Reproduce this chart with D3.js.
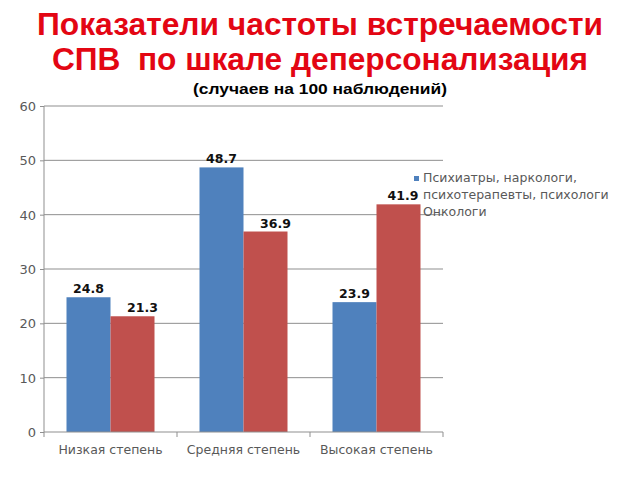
<!DOCTYPE html>
<html>
<head>
<meta charset="utf-8">
<script src="https://cdn.jsdelivr.net/npm/d3@7"></script>
<style>
  body { margin: 0; background: #fff; }
  .title { font-family: "Liberation Sans", Arial, sans-serif; white-space: pre; }
  .lab { font-family: "DejaVu Sans", sans-serif; }
</style>
</head>
<body>
<div id="chart"></div>
<script>
var categories = ["Низкая степень", "Средняя степень", "Высокая степень"];
var seriesNames = ["Психиатры, наркологи, психотерапевты, психологи", "Онкологи"];
var psychValues = [24.8, 48.7, 23.9];
var oncoValues = [21.3, 36.9, 41.9];
var yTicks = [0, 10, 20, 30, 40, 50, 60];
var colors = ["#4F81BD", "#C0504D"];

var svgWidth = 640;
var svgHeight = 480;

var margin = { top: 106, right: 197, bottom: 48, left: 44 };
var width = svgWidth - margin.left - margin.right;
var height = svgHeight - margin.top - margin.bottom;

var svg = d3.select("#chart")
  .append("svg")
  .attr("width", svgWidth)
  .attr("height", svgHeight);

// title
var titleColor = "#E30613";
svg.append("text")
  .attr("class", "title")
  .attr("x", 320).attr("y", 35)
  .attr("text-anchor", "middle")
  .attr("fill", titleColor)
  .attr("font-size", 31).attr("font-weight", "bold")
  .attr("textLength", 566).attr("lengthAdjust", "spacingAndGlyphs")
  .text("Показатели частоты встречаемости");
svg.append("text")
  .attr("class", "title")
  .attr("x", 320).attr("y", 70)
  .attr("text-anchor", "middle")
  .attr("fill", titleColor)
  .attr("font-size", 31).attr("font-weight", "bold")
  .attr("textLength", 536).attr("lengthAdjust", "spacingAndGlyphs")
  .text("СПВ  по шкале деперсонализация");
svg.append("text")
  .attr("class", "title")
  .attr("x", 320).attr("y", 94)
  .attr("text-anchor", "middle")
  .attr("fill", "#000")
  .attr("font-size", 15).attr("font-weight", "bold")
  .attr("textLength", 254).attr("lengthAdjust", "spacingAndGlyphs")
  .text("(случаев на 100 наблюдений)");

var chartGroup = svg.append("g")
  .attr("transform", `translate(${margin.left}, ${margin.top})`);

var x0 = d3.scaleBand()
  .domain(categories)
  .range([0, width]);

var x1 = d3.scaleBand()
  .domain([0, 1])
  .range([22.5, x0.bandwidth() - 22.5]);

var y = d3.scaleLinear()
  .domain([0, 60])
  .range([height, 0]);

// gridlines
chartGroup.selectAll(".grid")
  .data(yTicks.slice(1))
  .enter()
  .append("line")
  .attr("x1", 0).attr("x2", width)
  .attr("y1", d => y(d)).attr("y2", d => y(d))
  .attr("stroke", "#8f8f8f")
  .attr("stroke-width", 1);

// y axis
var leftAxis = d3.axisLeft(y).tickValues(yTicks).tickSize(4).tickPadding(4);
var yAxis = chartGroup.append("g").call(leftAxis);
yAxis.attr("font-family", null).attr("font-size", null);
yAxis.select(".domain").attr("stroke", "#8f8f8f").attr("d", `M0,${height}V0`);
yAxis.selectAll(".tick line").attr("stroke", "#8f8f8f");
yAxis.selectAll(".tick text")
  .attr("class", "lab")
  .attr("fill", "#595959")
  .attr("font-size", 13)
  .attr("dy", "0.35em");

// bars
var data = categories.map((c, i) => ({ cat: c, vals: [psychValues[i], oncoValues[i]] }));

var groups = chartGroup.selectAll(".cat")
  .data(data)
  .enter()
  .append("g")
  .attr("transform", d => `translate(${x0(d.cat)},0)`);

groups.selectAll("rect")
  .data(d => d.vals.map((v, s) => ({ s: s, v: v })))
  .enter()
  .append("rect")
  .attr("x", d => x1(d.s))
  .attr("y", d => y(d.v))
  .attr("width", x1.bandwidth())
  .attr("height", d => height - y(d.v))
  .attr("fill", d => colors[d.s]);

// value labels (red ones sit a bit to the right, but not into the legend)
var labelShift = [0, 10];
groups.selectAll(".lbl")
  .data(d => d.vals.map((v, s) => ({ s: s, v: v, cat: d.cat })))
  .enter()
  .append("text")
  .attr("class", "lab")
  .attr("x", function(d) {
    var cx = x1(d.s) + x1.bandwidth() / 2 + labelShift[d.s];
    var maxX = width - 40 - x0(d.cat);
    return Math.min(cx, maxX);
  })
  .attr("y", d => y(d.v) - 4)
  .attr("text-anchor", "middle")
  .attr("font-size", 12.5)
  .attr("font-weight", "bold")
  .attr("fill", "#111")
  .text(d => d.v.toFixed(1));

// x axis
var bottomAxis = d3.axisBottom(x0).tickSize(0).tickPadding(13);
var xAxis = chartGroup.append("g")
  .attr("transform", `translate(0, ${height})`)
  .call(bottomAxis);
xAxis.attr("font-family", null).attr("font-size", null);
xAxis.select(".domain").attr("stroke", "#8f8f8f").attr("d", `M0,0H${width}`);
xAxis.selectAll(".tick text")
  .attr("class", "lab")
  .attr("fill", "#595959")
  .attr("font-size", 12.5);
chartGroup.selectAll(".cat-tick")
  .data(categories.concat(["end"]))
  .enter()
  .append("line")
  .attr("x1", (d, i) => i * x0.bandwidth())
  .attr("x2", (d, i) => i * x0.bandwidth())
  .attr("y1", height).attr("y2", height + 5)
  .attr("stroke", "#8f8f8f");

// legend
var legend = svg.append("g").attr("transform", "translate(414, 176)");
legend.append("rect")
  .attr("width", 5).attr("height", 5)
  .attr("fill", colors[0]);
var legendLines = ["Психиатры, наркологи,", "психотерапевты, психологи", seriesNames[1]];
legend.selectAll(".lg")
  .data(legendLines)
  .enter()
  .append("text")
  .attr("class", "lab")
  .attr("x", 9)
  .attr("y", (d, i) => 6 + i * 17)
  .attr("fill", "#595959")
  .attr("font-size", 12.5)
  .text(d => d);
</script>
</body>
</html>
